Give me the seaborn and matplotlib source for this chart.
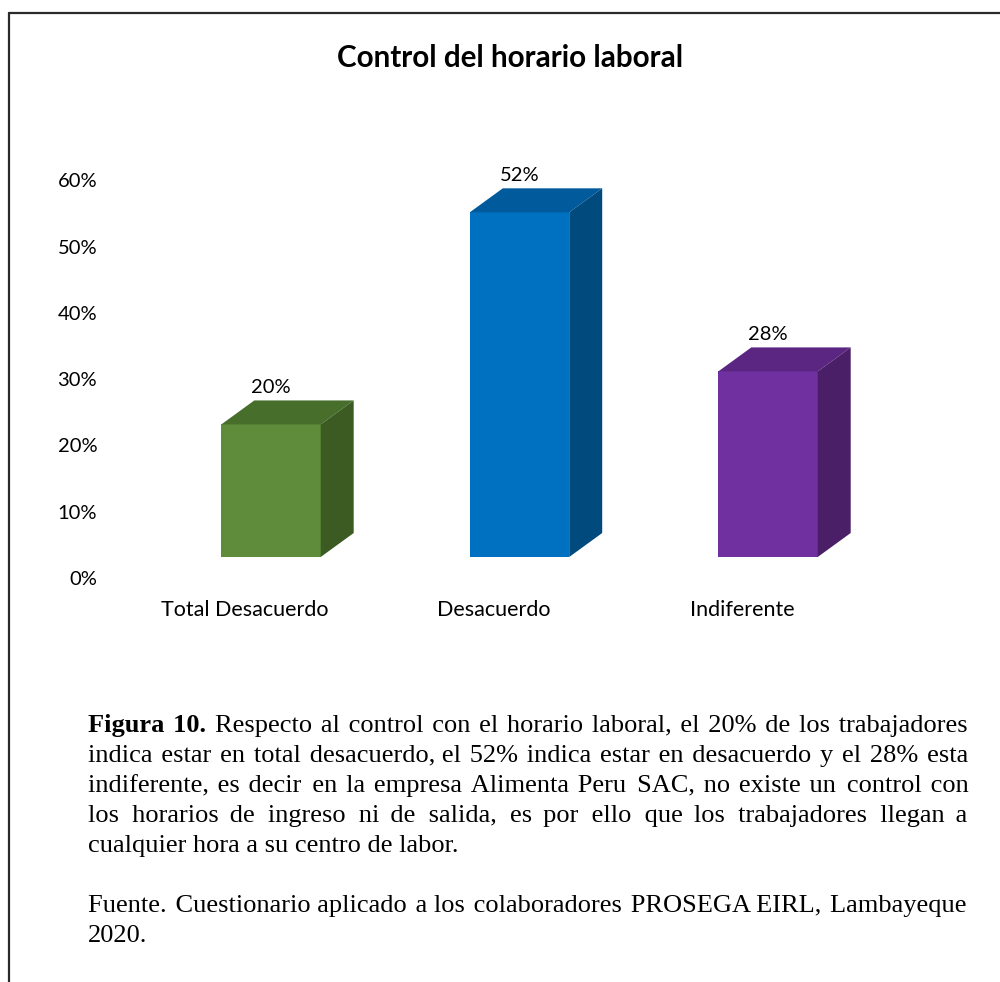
import matplotlib
matplotlib.use("Agg")
import numpy as np
import pandas as pd
import seaborn as sns
import matplotlib.pyplot as plt
from matplotlib.transforms import ScaledTranslation
from matplotlib.patches import Polygon
from matplotlib.lines import Line2D

# ---------------- data ----------------
categories = ["Total Desacuerdo", "Desacuerdo", "Indiferente"]
values = [0.20, 0.52, 0.28]
value_labels = ["20%", "52%", "28%"]
y_ticks = [0.0, 0.1, 0.2, 0.3, 0.4, 0.5, 0.6]
y_tick_labels = ["0%", "10%", "20%", "30%", "40%", "50%", "60%"]
title = "Control del horario laboral"

front_colors = ["#5E8C3B", "#0070C0", "#7030A0"]
top_colors = ["#476E2B", "#005A9C", "#5A2682"]
side_colors = ["#3C5B23", "#004A7E", "#4A1F68"]

caption_lines = [
    [("Figura", True), ("10.", True), ("Respecto", False), ("al", False), ("control", False), ("con", False),
     ("el", False), ("horario", False), ("laboral,", False), ("el", False), ("20%", False), ("de", False),
     ("los", False), ("trabajadores", False)],
    "indica estar en total desacuerdo, el 52% indica estar en desacuerdo y el 28% esta",
    "indiferente, es decir en la empresa Alimenta Peru SAC, no existe un control con",
    "los horarios de ingreso ni de salida, es por ello que los trabajadores llegan a",
    "cualquier hora a su centro de labor.",
]
source_lines = [
    "Fuente. Cuestionario aplicado a los colaboradores PROSEGA EIRL, Lambayeque",
    "2020.",
]

# ---------------- style ----------------
sns.set_theme(style="white")
plt.rcParams["font.family"] = ["Lato", "DejaVu Sans"]

W, H = 1000, 982
fig = plt.figure(figsize=(W / 100, H / 100), dpi=100)
fig.patch.set_facecolor("white")


def fx(px):
    return px / W


def fy(py):
    return 1 - py / H


# axes: x=0 at 245px, 248.5 px per category; y=0 at 578px, 663 px per unit
ax = fig.add_axes([fx(120.75), fy(578), 745.5 / W, 464 / H])

df = pd.DataFrame({"categoria": categories, "valor": values})
sns.barplot(data=df, x="categoria", y="valor", hue="categoria", palette=front_colors,
            width=0.4, saturation=1, legend=False, ax=ax)
ax.set_xlim(-0.5, 2.5)
ax.set_ylim(0, 0.7)
ax.set_xlabel("")
ax.set_ylabel("")
for s in ax.spines.values():
    s.set_visible(False)
ax.grid(False)
ax.set_yticks(y_ticks, y_tick_labels)
ax.tick_params(axis="y", length=0, pad=17, labelsize=14.5, labelcolor="black")
ax.tick_params(axis="x", length=0, pad=16, labelsize=15.5, labelcolor="black")

# 3D effect: front faces shifted; top and side faces drawn as parallelograms
offset = ScaledTranslation(0.26, 0.21, fig.dpi_scale_trans)
trans = ax.transData + offset
dx = 33 / 248.5
dy = 24 / 663
for i, p in enumerate(ax.patches):
    p.set_transform(trans)
    p.set_edgecolor("none")
    p.set_clip_on(False)
    x0 = p.get_x()
    w = p.get_width()
    h = p.get_height()
    top = Polygon([(x0, h), (x0 + w, h), (x0 + w + dx, h + dy), (x0 + dx, h + dy)],
                  closed=True, facecolor=top_colors[i], edgecolor="none", transform=trans, clip_on=False)
    side = Polygon([(x0 + w, 0), (x0 + w + dx, dy), (x0 + w + dx, h + dy), (x0 + w, h)],
                   closed=True, facecolor=side_colors[i], edgecolor="none", transform=trans, clip_on=False)
    ax.add_patch(top)
    ax.add_patch(side)
    ax.annotate(value_labels[i], xy=(x0 + w / 2, h), xytext=(26 * 0.72, (21 + 37) * 0.72),
                textcoords="offset points", ha="center", va="center", fontsize=14.5, color="black")

# title
fig.text(fx(510), fy(67), title, ha="center", va="baseline", fontsize=21.3, fontweight="bold", color="black")

# border
fig.add_artist(Line2D([fx(9), 1.0], [fy(13), fy(13)], transform=fig.transFigure, color="#2a2a2a", lw=1.6))
fig.add_artist(Line2D([fx(9), fx(9)], [fy(13), 0.0], transform=fig.transFigure, color="#2a2a2a", lw=1.6))

# caption with justified lines (one text object per run of same weight)
serif = ["Liberation Serif", "DejaVu Serif"]
cap_fs = 19
left_px, right_px = 88, 968
renderer = fig.canvas.get_renderer()
_wcache = {}


def text_width(s, bold=False):
    key = (s, bold)
    if key not in _wcache:
        t = fig.text(0, 0, s, fontsize=cap_fs, family=serif, fontweight="bold" if bold else "normal")
        _wcache[key] = t.get_window_extent(renderer).width
        t.remove()
    return _wcache[key]


space_chars = ["\u2003", "\u2002", "\u2004", " ", "\u2005", "\u2006", "\u2009", "\u200A"]


def space_table(bold):
    base_w = text_width("aa", bold)
    tab = []
    for ch in space_chars:
        wdt = text_width("a" + ch + "a", bold) - base_w
        if wdt > 0.8:
            tab.append((ch, wdt))
    tab.sort(key=lambda t: -t[1])
    return tab


space_tabs = {False: space_table(False), True: space_table(True)}


def make_gap(need, bold):
    tab = space_tabs[bold]
    smallest = tab[-1][1]
    s = ""
    got = 0.0
    rem = need
    for ch, wdt in tab:
        while rem >= wdt - 0.01:
            s += ch
            got += wdt
            rem -= wdt
    if rem > smallest / 2:
        s += tab[-1][0]
        got += smallest
    if not s:
        s = tab[-1][0]
        got = smallest
    return s, got


def place_line(words, y_px, justify):
    if isinstance(words, str):
        words = [(w, False) for w in words.split()]
    widths = [text_width(wd, b) for wd, b in words]
    if justify and len(words) > 1:
        gap = (right_px - left_px - sum(widths)) / (len(words) - 1)
    else:
        gap = text_width("a a") - text_width("aa")
    targets = []
    x = left_px
    for wdt in widths:
        targets.append(x)
        x += wdt + gap
    # group runs of same weight
    k = 0
    while k < len(words):
        bold = words[k][1]
        start = targets[k]
        s = words[k][0]
        cur = start + widths[k]
        k += 1
        while k < len(words) and words[k][1] == bold:
            sp, got = make_gap(targets[k] - cur, bold)
            s += sp + words[k][0]
            cur += got + widths[k]
            k += 1
        fig.text(fx(start), fy(y_px), s, fontsize=cap_fs, family=serif,
                 fontweight="bold" if bold else "normal", va="baseline", ha="left", color="black")


base = 732
for k, line in enumerate(caption_lines):
    place_line(line, base + 30 * k, justify=(k < len(caption_lines) - 1))
src_base = 912
for k, line in enumerate(source_lines):
    place_line(line, src_base + 30 * k, justify=(k < len(source_lines) - 1))

fig.savefig("out.png", dpi=100, facecolor="white")
